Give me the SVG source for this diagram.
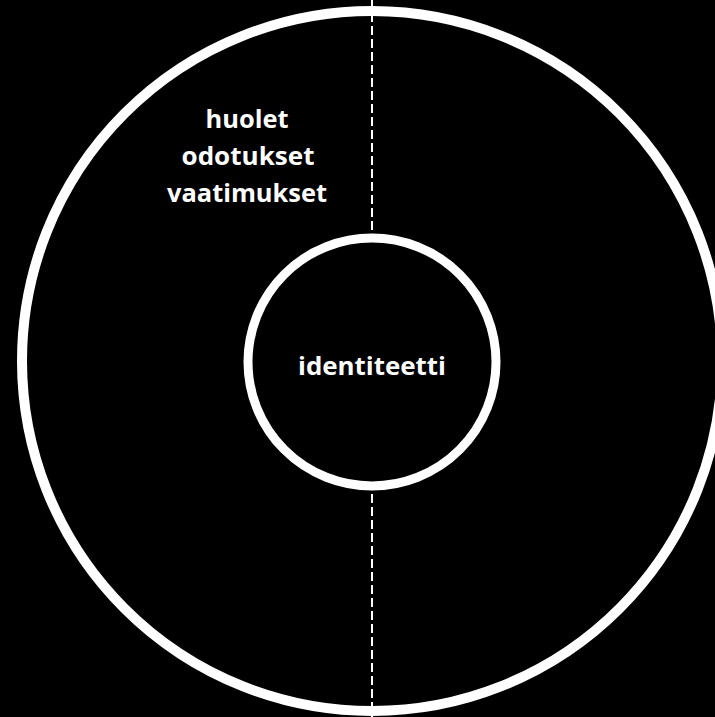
<svg xmlns="http://www.w3.org/2000/svg" width="715" height="717" viewBox="0 0 715 717">
<style>
.lbl{font-family:"Open Sans","Liberation Sans",sans-serif;font-weight:bold;font-size:25px;fill:#fff;text-anchor:middle}
</style>
<rect width="715" height="717" fill="#000"/>
<g id="connectors">
<line x1="372" y1="0" x2="372" y2="717" stroke="#fff" stroke-width="2" stroke-dasharray="9 4"/>
</g>
<g id="outer">
<circle cx="372" cy="361" r="350" fill="none" stroke="#fff" stroke-width="10"/>
<text class="lbl" x="247" y="128" textLength="83" lengthAdjust="spacingAndGlyphs">huolet</text>
<text class="lbl" x="248" y="165" textLength="133" lengthAdjust="spacingAndGlyphs">odotukset</text>
<text class="lbl" x="247" y="202" textLength="160" lengthAdjust="spacingAndGlyphs">vaatimukset</text>
</g>
<g id="inner">
<circle cx="372" cy="362" r="124" fill="#000" stroke="#fff" stroke-width="9"/>
<text class="lbl" x="372" y="375" textLength="148" lengthAdjust="spacingAndGlyphs">identiteetti</text>
</g>
</svg>
